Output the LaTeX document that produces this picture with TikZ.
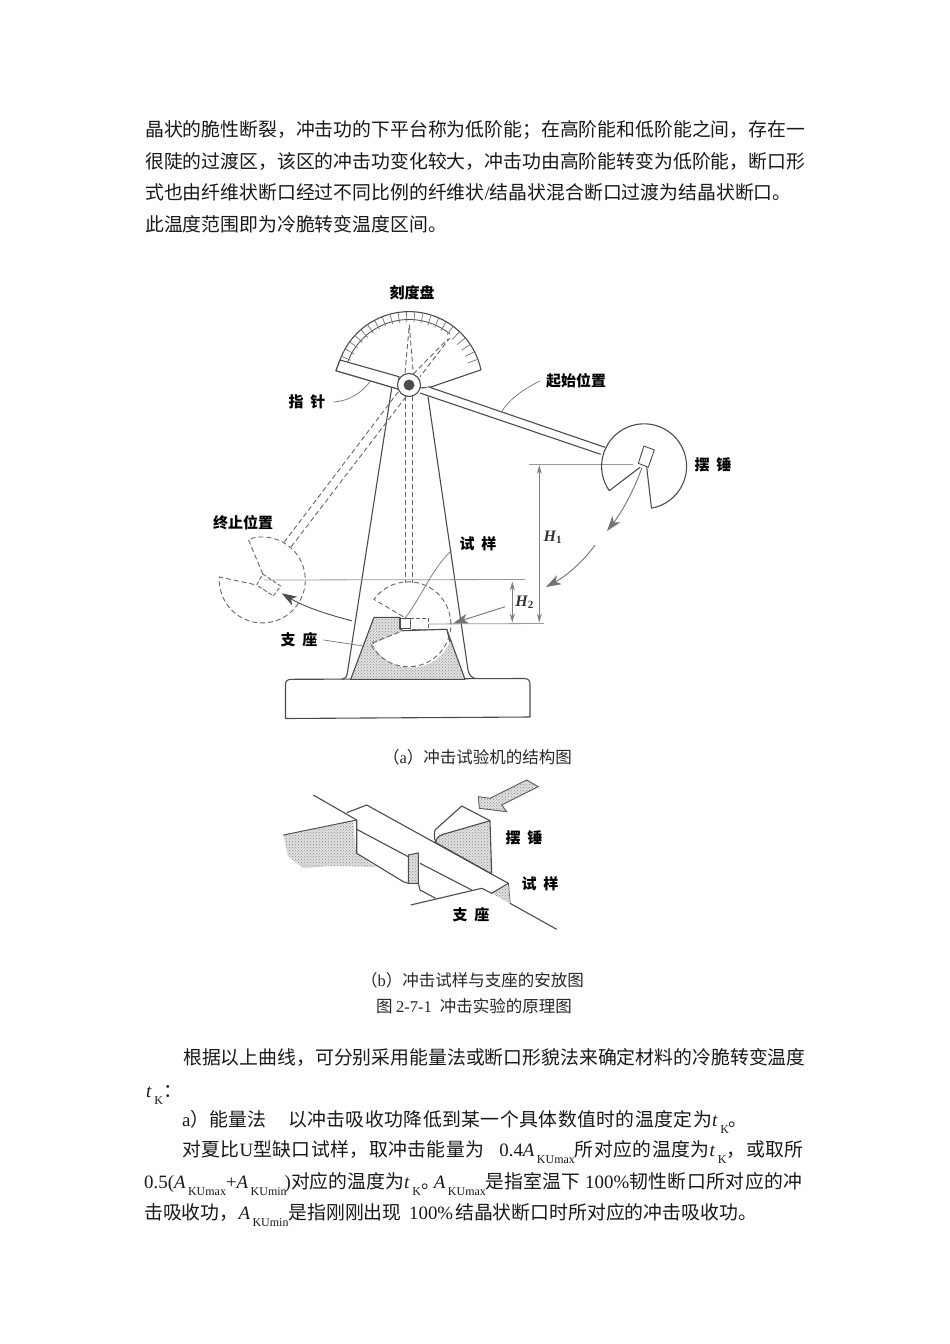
\documentclass[tikz,border=0pt]{standalone}
\usepackage{fontspec}
\setmainfont{Noto Sans CJK SC}
\newfontfamily\ltn{Liberation Serif}
\newfontfamily\cjkb[LetterSpace=2.3]{Noto Sans CJK SC}
\usetikzlibrary{arrows.meta,calc,patterns}
\newcommand{\La}[1]{{\ltn #1}}
\newcommand{\Aa}[1]{{\ltn\itshape A\kern2.5pt\raisebox{-7pt}{\fontsize{12}{12}\selectfont\upshape #1}}}
\newcommand{\tk}{{\ltn\itshape t\kern3pt\raisebox{-7.5pt}{\fontsize{12}{12}\selectfont\upshape K}}}
\tikzset{
  bodyline/.style={anchor=base west,inner sep=0pt,font=\fontsize{18.86}{20}\selectfont,text=black!90},
  captionline/.style={anchor=center,inner sep=0pt,font=\fontsize{16.5}{18}\selectfont,text=black!85},
  lbl/.style={anchor=center,inner sep=0pt,font=\fontsize{15}{16}\selectfont\bfseries},
  hlbl/.style={anchor=center,inner sep=0pt,font=\fontsize{16}{16}\selectfont\ltn\itshape\bfseries,text=black!80},
  ink/.style={draw=black!70,line width=1.1pt,line join=round},
  dashln/.style={draw=black!60,line width=.9pt,dash pattern=on 5pt off 3pt},
  refln/.style={draw=black!40,line width=.8pt},
  leader/.style={draw=black!55,line width=.7pt},
  dimln/.style={draw=black!50,line width=.8pt,{Stealth[length=9pt,width=5pt]}-{Stealth[length=9pt,width=5pt]}},
  swing/.style={draw=black!55,line width=.9pt,-{Stealth[length=15pt,width=10pt,inset=4pt]}},
  shd/.style={preaction={fill=black!12},pattern=crosshatch dots,pattern color=black!45},
}
\newcommand{\sgap}{\hspace{7pt}}
\begin{document}
\begin{tikzpicture}[x=1pt,y=-1pt]
\useasboundingbox (0,0) rectangle (950,1344);
\fill[white] (0,0) rectangle (950,1344);

% ---- top text
\node[bodyline] (t1) at (145,136) {晶状的脆性断裂，冲击功的下平台称为低阶能；在高阶能和低阶能之间，存在一};
\node[bodyline] (t2) at (145,168) {很陡的过渡区，该区的冲击功变化较大，冲击功由高阶能转变为低阶能，断口形};
\node[bodyline] (t3) at (145,199) {式也由纤维状断口经过不同比例的纤维状\La{/}结晶状混合断口过渡为结晶状断口。};
\node[bodyline] (t4) at (145,231) {此温度范围即为冷脆转变温度区间。};

% ---- tower and base
\draw[ink,fill=white] (285.5,685) .. controls (285.5,681) and (287,679.3) .. (292,679.3)
  -- (524,678.5) .. controls (529,678.5) and (530,681) .. (530,685) -- (530,717) -- (285.5,718.5) -- cycle;
\draw[ink] (391.7,388) -- (347.5,672) .. controls (347,677) and (345,679) .. (342,679.3);
\draw[ink] (428,396.7) -- (468,670) .. controls (469,675) and (472,678) .. (476,678.7);

% ---- dial
\draw[ink,fill=white] (336,370.7) -- (340,360) arc[start angle=200,end angle=348,radius=73.5]
  -- (430,387.3) -- (399,389.3) -- cycle;
\draw[ink,line width=.8pt] (409,385)+(200:65.5) arc[start angle=200,end angle=309,radius=65.5];
\foreach \a in {203,209.5,...,345}{
  \draw[draw=black!55,line width=.7pt] (409,385)+(\a:63) -- ++(\a:73);
}
% dashed pointer positions
\draw[dashln] (405,373) -- (409.3,325) -- (413.3,373);
\draw[dashln] (413.3,374) -- (446.7,340) -- (449,339) -- (420,376.7);
% pointer
\draw[ink,fill=white] (336,370.7) -- (340,360) -- (399,376.7) -- (399,389.3) -- cycle;

% ---- dashed rods
\draw[dashln] (405,396) -- (405,583);
\draw[dashln] (412.7,396) -- (412.7,583);
\draw[dashln] (398.3,391.7) -- (283.3,543.3);
\draw[dashln] (406,396.7) -- (290,548.3);

% ---- reference lines
\draw[refln] (264,580) -- (525,579.5);
\draw[refln] (420,624) -- (544,623.5);
\draw[refln] (529.3,464) -- (633.3,464);

% ---- support
\draw[ink,shd] (374,617.3) -- (400,617.3) -- (400,629) -- (403,630.7) -- (446.7,629.3) -- (465,679.3) -- (350.7,679.3) -- cycle;
\fill[white] (403,630.7) -- (446.7,629.3) -- (450,641.7) arc[start angle=23,end angle=153,radius=42.5] -- cycle;
\draw[ink] (403,630.7) -- (446.7,629.3) -- (450,641.7);
% ---- specimen
\draw[ink,fill=white] (400,618.3) rectangle (410.7,628.3);
\draw[dashln,fill=white,dash pattern=on 4pt off 2pt] (410.7,618.3) rectangle (428.7,629);
% ---- dashed lower hammer
\draw[dashln] (403.3,616.7) -- (374,599.3) arc[start angle=216,end angle=513,radius=42.5] -- (403,630.7);

% ---- dashed end hammer
\draw[dashln] (262.7,574) -- (248.3,539.3) arc[start angle=251,end angle=544,radius=43] -- (256.7,585);
\draw[dashln,dash pattern=on 4pt off 2pt] (262.7,574) -- (280.7,586) -- (273.3,596) -- (256.7,585) -- cycle;

% ---- rod and start hammer
\fill[white] (428,386.7) -- (605,447.3) -- (600.7,454.3) -- (420,393) -- cycle;
\draw[ink] (428,386.7) -- (605,447.3);
\draw[ink] (420,393) -- (600.7,454.3);
\draw[ink] (640,467.3) -- (609.3,490.7) arc[start angle=145,end angle=440,radius=42.5] -- (646.7,467.3);
\draw[ink,line width=.9pt] (644,446) -- (654.3,450) -- (648.3,467.3) -- (638.3,463.3) -- cycle;

% ---- pivot
\node[circle,draw=black!70,line width=1.1pt,fill=white,minimum size=23pt,inner sep=0pt] (pivot) at (409,385) {};
\node[circle,fill=black!70,minimum size=11pt,inner sep=0pt] (pin) at (409,385) {};

% ---- labels
\node[lbl] (Ldial) at (412,293) {刻度盘};
\node[lbl] (Lptr) at (307,402) {指\sgap 针};
\node[lbl] (Lstart) at (576,381) {起始位置};
\node[lbl] (Lham) at (713,465) {摆\sgap 锤};
\node[lbl] (Lend) at (243,523) {终止位置};
\node[lbl] (Lspec) at (478,544) {试\sgap 样};
\node[lbl] (Lsup) at (299,640) {支\sgap 座};
\node[hlbl] (H1) at (552.7,537.3) {H\raisebox{-2pt}{\fontsize{11}{11}\selectfont\upshape 1}};
\node[hlbl] (H2) at (524.3,602.7) {H\raisebox{-2pt}{\fontsize{11}{11}\selectfont\upshape 2}};

% ---- leaders
\coordinate (aPtr) at (370,381.7);
\coordinate (aStart) at (501.7,411.7);
\coordinate (aSpec) at (405,618);
\coordinate (aSup) at (363.3,646);
\draw[leader] (Lptr.east) ++(8,0) .. controls (350,401) and (362,392) .. (aPtr);
\draw[leader] (Lstart.west) ++(-6,0) .. controls (520,391) and (508,401) .. (aStart);
\draw[leader] (Lspec.west) ++(-8,7) .. controls (432,568) and (420,600) .. (aSpec);
\draw[leader] (Lsup.east) ++(6,0) -- (aSup);

% ---- dimensions
\coordinate (d1a) at (539.3,465); \coordinate (d1b) at (539.3,622.5);
\coordinate (d2a) at (512.3,581.5); \coordinate (d2b) at (512.3,622.5);
\draw[dimln] (d1a) -- (d1b);
\draw[dimln] (d2a) -- (d2b);

% ---- arrows
\coordinate (s1a) at (641.7,468.3); \coordinate (s1b) at (607,531);
\coordinate (s2a) at (595,545); \coordinate (s2b) at (546,587);
\coordinate (r1a) at (351.7,620.7); \coordinate (r1b) at (281.7,593.3);
\coordinate (p1a) at (505,606.7); \coordinate (p1b) at (453.3,623.3);
\draw[swing] (s1a) .. controls (634,490) and (622,512) .. (s1b);
\draw[swing] (s2a) .. controls (583,562) and (566,576) .. (s2b);
\draw[swing,draw=black!70] (r1a) .. controls (325,614) and (303,606) .. (r1b);
\draw[swing] (p1a) -- (p1b);

% ---- caption a
\node[captionline] (capa) at (477.5,757) {（\La{a}）冲击试验机的结构图};

% ---- lower figure
\fill[shd] (283.3,835) -- (353.3,820) -- (356,853.3) -- (376,867) -- (330,866) -- (303,868.3) -- (288,856) -- cycle;
\draw[ink,line width=.9pt] (283.3,835) -- (356.7,820);
% hammer
\draw[ink,shd] (435.7,842.5) .. controls (436,837) and (440,835) .. (446,833.5) -- (490,820.7) -- (491.7,874) -- cycle;
\draw[ink] (435,830) -- (461.7,806) -- (490,820.7);
\draw[ink] (435,830) .. controls (434,835) and (434,838) .. (435.7,842.5);
% big arrow
\draw[draw=black!65,line width=.9pt,shd] (478.3,796.7) -- (479.3,808.3) -- (506.7,811.7) -- (501.7,805) -- (538.3,786.7) -- (526.7,780) -- (490,798.3) -- cycle;
% specimen
\draw[ink] (313.3,795) -- (356.7,820);
\draw[ink] (346.7,812.7) -- (366.7,805) -- (508.3,883.3) -- (510,903.3);
\draw[ink] (356.7,820) -- (356.7,853.3) -- (403.3,881.7) -- (408.3,883.3);
\draw[ink] (356.7,829.3) -- (408.3,856.7);
\draw[ink,shd] (408.3,855) -- (418.3,853) -- (418.3,883.3) -- (408.3,883.3) -- cycle;
\draw[ink] (418.3,883.3) -- (420,890) -- (435.7,898.3);
\draw[ink] (420,863.3) -- (471.7,890);
\fill[shd] (491.7,893.3) -- (508.3,885) -- (510,903.3) -- cycle;
\draw[ink] (410.7,905) -- (481.7,888.3) -- (491.7,893.3) -- (508.3,883.3);
\draw[ink] (510,903.3) -- (556.7,929.3);
\node[lbl] (Lham2) at (524,838) {摆\sgap 锤};
\node[lbl] (Lspec2) at (540,884) {试\sgap 样};
\node[lbl] (Lsup2) at (471,915) {支\sgap 座};

% ---- captions b
\node[captionline] (capb) at (472.5,980) {（\La{b}）冲击试样与支座的安放图};
\node[captionline] (capc) at (474,1006) {图 \La{2-7-1}\hspace{8pt}冲击实验的原理图};

% ---- lower text
\node[bodyline] (b1) at (183,1064) {根据以上曲线，可分别采用能量法或断口形貌法来确定材料的冷脆转变温度};
\node[bodyline] (b2) at (146,1097) {\tk：};
\node[bodyline] (b3) at (182,1126) {\La{a}）能量法\hspace{22pt}{\cjkb 以冲击吸收功降低到某一个具体数值时的温度定为}\tk。};
\node[bodyline] (b4) at (182,1156) {{\cjkb 对夏比\La{U}型缺口试样，取冲击能量为}\hspace{15pt}\La{0.4}\Aa{KUmax}{\cjkb 所对应的温度为}\tk，\kern1pt 或取所};
\node[bodyline] (b5) at (144,1188) {\La{0.5(}\Aa{KUmax}\La{+}\Aa{KUmin}\kern-2pt\La{)}对应的温度为\tk 。\kern-6pt\Aa{KUmax}是指室温下\hspace{5pt}\La{100\%}{\cjkb 韧性断口所对应的冲}};
\node[bodyline] (b6) at (144,1219) {击吸收功，\Aa{KUmin}是指刚刚出现\hspace{7.5pt}\La{100\%}\kern2pt 结晶状断口时所对应的冲击吸收功。};
\end{tikzpicture}
\end{document}
